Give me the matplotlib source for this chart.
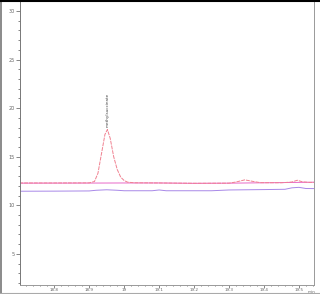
import matplotlib
matplotlib.use("Agg")
import matplotlib.pyplot as plt
from matplotlib.ticker import MultipleLocator

# retention time (min) and signal for the three traces
t_red = [18.70, 18.80, 18.90, 18.915, 18.925, 18.935, 18.945, 18.952, 18.96, 18.97,
         18.98, 18.99, 19.00, 19.01, 19.03, 19.10, 19.20, 19.30, 19.32, 19.345,
         19.37, 19.39, 19.45, 19.48, 19.495, 19.51, 19.53, 19.55]
y_red = [12.30, 12.30, 12.31, 12.45, 13.3, 15.3, 17.3, 17.8, 16.9, 15.0,
         13.7, 12.9, 12.55, 12.38, 12.32, 12.30, 12.27, 12.28, 12.40, 12.62,
         12.45, 12.33, 12.32, 12.40, 12.58, 12.42, 12.36, 12.37]

t_mag = [18.70, 18.90, 19.00, 19.10, 19.20, 19.30, 19.40, 19.50, 19.55]
y_mag = [12.28, 12.29, 12.30, 12.30, 12.26, 12.28, 12.32, 12.36, 12.38]

t_pur = [18.70, 18.80, 18.90, 18.92, 18.95, 18.98, 19.00, 19.08, 19.10, 19.12,
         19.25, 19.30, 19.40, 19.46, 19.48, 19.50, 19.52, 19.55]
y_pur = [11.45, 11.46, 11.48, 11.55, 11.60, 11.55, 11.50, 11.50, 11.58, 11.50,
         11.50, 11.58, 11.62, 11.65, 11.80, 11.85, 11.73, 11.72]

xticks = [18.8, 18.9, 19.0, 19.1, 19.2, 19.3, 19.4, 19.5]
xlabels = ["18.8", "18.9", "19", "19.1", "19.2", "19.3", "19.4", "19.5"]
yticks = [5, 10, 15, 20, 25, 30]

fig = plt.figure(figsize=(3.2, 2.94), dpi=100)
ax = fig.add_axes([20 / 320, 9 / 294, 294 / 320, 285 / 294])

ax.plot(t_mag, y_mag, color="#e868c8", lw=0.7)
ax.plot(t_red, y_red, color="#f08090", lw=0.7, dashes=(4, 1))
ax.plot(t_pur, y_pur, color="#a888e8", lw=0.7)

ax.text(18.952, 18.1, "methylsuccinate", rotation=90, fontsize=3,
        ha="center", va="bottom", color="#444444")

ax.set_xlim(18.702, 19.543)
ax.set_ylim(1.8, 31.13)
ax.set_xticks(xticks)
ax.set_xticklabels(xlabels)
ax.set_yticks(yticks)
ax.xaxis.set_minor_locator(MultipleLocator(0.02))
ax.yaxis.set_minor_locator(MultipleLocator(1))
ax.tick_params(which="major", length=3, width=0.5, labelsize=3.5,
               labelcolor="#666666", color="#555555", pad=1)
ax.tick_params(which="minor", length=1.5, width=0.5, color="#555555")
ax.tick_params(axis="x", which="major", length=1.8, labelsize=3, pad=0.3)
ax.tick_params(axis="x", which="minor", length=1)
ax.text(19.535, 1.3, "min", fontsize=3, color="#666666",
        ha="center", va="top")

for side in ["left", "bottom", "right"]:
    ax.spines[side].set_color("#999999")
    ax.spines[side].set_linewidth(0.7)
ax.spines["top"].set_color("black")
ax.spines["top"].set_linewidth(1.5)
ax.spines["left"].set_color("#777777")

# outer border of the picture
fig.add_artist(plt.Line2D([0.002, 0.002], [0, 1], color="#777777", lw=1.2))
fig.add_artist(plt.Line2D([0, 1], [0.998, 0.998], color="black", lw=1.5))
fig.add_artist(plt.Line2D([0, 1], [0.004, 0.004], color="#aaaaaa", lw=0.8))

plt.savefig("out.png", dpi=100)
plt.close()
